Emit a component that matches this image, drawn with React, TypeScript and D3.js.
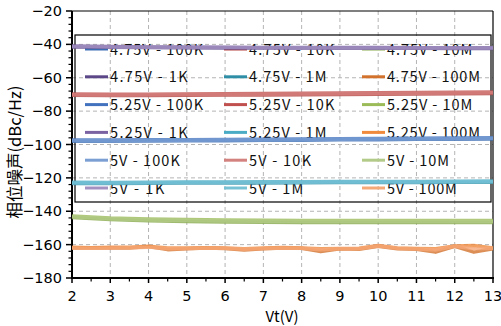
import React from "react";
import * as d3 from "d3";

const VT = [2, 3, 4, 5, 6, 7, 8, 9, 10, 11, 12, 13];
const VT_FINE = [2, 2.5, 3, 3.5, 4, 4.5, 5, 5.5, 6, 6.5, 7, 7.5, 8, 8.5, 9, 9.5, 10, 10.5, 11, 11.5, 12, 12.5, 13];

const X_TICKS = [2, 3, 4, 5, 6, 7, 8, 9, 10, 11, 12, 13];
const Y_TICKS = [-20, -40, -60, -80, -100, -120, -140, -160, -180];

const V475_100K = [-98.0, -98.0, -97.9, -97.8, -97.7, -97.5, -97.4, -97.2, -97.1, -96.9, -96.8, -96.7];
const V475_10K = [-70.5, -70.6, -70.6, -70.5, -70.4, -70.3, -70.2, -70.0, -69.9, -69.8, -69.6, -69.5];
const V475_10M = [-143.8, -145.0, -145.7, -146.1, -146.4, -146.6, -146.7, -146.8, -146.8, -146.8, -146.8, -146.8];
const V475_1K = [-41.5, -41.7, -41.9, -42.0, -42.1, -42.2, -42.2, -42.3, -42.3, -42.3, -42.4, -42.4];
const V475_1M = [-123.3, -123.3, -123.2, -123.1, -123.0, -123.0, -122.9, -122.8, -122.8, -122.7, -122.6, -122.6];
const V475_100M = [-162, -162, -161.8, -162, -161.2, -163, -162.5, -162, -162.3, -163.2, -162.5, -162, -162.2, -164.2, -162.5, -162.8, -161, -162.5, -162.8, -164.5, -161, -164.5, -162.5];

const V525_100K = [-97.3, -97.3, -97.2, -97.1, -97.0, -96.8, -96.7, -96.5, -96.4, -96.2, -96.1, -96.0];
const V525_10K = [-69.8, -69.9, -69.9, -69.8, -69.6, -69.5, -69.3, -69.2, -69.0, -68.9, -68.7, -68.6];
const V525_10M = [-142.8, -144.0, -144.6, -145.0, -145.2, -145.4, -145.5, -145.5, -145.5, -145.5, -145.5, -145.5];
const V525_1K = [-41.0, -41.3, -41.5, -41.6, -41.7, -41.8, -41.8, -41.9, -41.9, -42.0, -42.0, -42.0];
const V525_1M = [-122.6, -122.7, -122.6, -122.5, -122.4, -122.3, -122.3, -122.2, -122.1, -122.1, -122.0, -121.9];
const V525_100M = [-161.5, -161.8, -161.5, -161.6, -161, -162, -162, -161.8, -162, -162.5, -162, -161.7, -162, -162.5, -162.3, -162.2, -160.5, -162, -162.3, -162.5, -160.8, -160.5, -162];

const V5_100K = [-97.6, -97.7, -97.6, -97.5, -97.3, -97.2, -97.0, -96.9, -96.7, -96.6, -96.4, -96.3];
const V5_10K = [-70.2, -70.3, -70.2, -70.1, -70.0, -69.9, -69.7, -69.6, -69.4, -69.3, -69.2, -69.0];
const V5_10M = [-143.3, -144.5, -145.2, -145.6, -145.8, -146.0, -146.1, -146.1, -146.1, -146.1, -146.1, -146.1];
const V5_1K = [-41.3, -41.5, -41.7, -41.8, -41.9, -42.0, -42.0, -42.1, -42.1, -42.1, -42.2, -42.2];
const V5_1M = [-123.0, -123.0, -122.9, -122.8, -122.7, -122.6, -122.6, -122.5, -122.4, -122.4, -122.3, -122.3];
const V5_100M = [-162, -162.2, -162, -161.8, -161.5, -162.5, -162.3, -162, -162.2, -162.8, -162.3, -162, -162.2, -163, -162.5, -162.5, -160.8, -162.2, -162.6, -163.2, -161, -162.5, -162.2];

const SERIES = [
  { name: "4.75V - 100K", x: VT, y: V475_100K, color: "#3b6db3" },
  { name: "4.75V - 10K", x: VT, y: V475_10K, color: "#b2403c" },
  { name: "4.75V - 10M", x: VT, y: V475_10M, color: "#86a94a" },
  { name: "4.75V - 1K", x: VT, y: V475_1K, color: "#5c4888" },
  { name: "4.75V - 1M", x: VT, y: V475_1M, color: "#2e8ea6" },
  { name: "4.75V - 100M", x: VT_FINE, y: V475_100M, color: "#d2722c" },
  { name: "5.25V - 100K", x: VT, y: V525_100K, color: "#4272bd" },
  { name: "5.25V - 10K", x: VT, y: V525_10K, color: "#c0504d" },
  { name: "5.25V - 10M", x: VT, y: V525_10M, color: "#9bbb59" },
  { name: "5.25V - 1K", x: VT, y: V525_1K, color: "#7b62a3" },
  { name: "5.25V - 1M", x: VT, y: V525_1M, color: "#4bacc6" },
  { name: "5.25V - 100M", x: VT_FINE, y: V525_100M, color: "#f08a3c" },
  { name: "5V - 100K", x: VT, y: V5_100K, color: "#7b9fd3" },
  { name: "5V - 10K", x: VT, y: V5_10K, color: "#d4827f" },
  { name: "5V - 10M", x: VT, y: V5_10M, color: "#b3cb88" },
  { name: "5V - 1K", x: VT, y: V5_1K, color: "#a391c2" },
  { name: "5V - 1M", x: VT, y: V5_1M, color: "#78c2d6" },
  { name: "5V - 100M", x: VT_FINE, y: V5_100M, color: "#f5a878" },
];

const W = 501;
const H = 326;
const L = 72, R = 493, T = 11, B = 278;

export default function App() {
  const x = d3.scaleLinear().domain([2, 13]).range([L, R]);
  const y = d3.scaleLinear().domain([-180, -20]).range([B, T]);
  const line = d3.line<[number, number]>().x((d) => x(d[0])).y((d) => y(d[1]));

  const minorY: number[] = [];
  for (let v = -180; v <= -20; v += 4) if (v % 20 !== 0) minorY.push(v);
  const minorX: number[] = [];
  for (let v = 2.5; v < 13; v += 1) minorX.push(v);

  const tickFont = "'DejaVu Sans', sans-serif";
  const cjkFont = "'Noto Sans CJK SC', sans-serif";

  const legX = [85, 224, 362];
  const legY0 = 49;
  const legDy = 27.8;

  return (
    <svg width={W} height={H} style={{ position: "absolute", left: 0, top: 0, background: "#fff" }}>
      <rect x={0} y={0} width={W} height={H} fill="#fff" />
      {X_TICKS.filter((v) => v !== 2 && v !== 13).map((v) => (
        <line key={"gx" + v} x1={x(v)} x2={x(v)} y1={T} y2={B} stroke="#b4b4b4" strokeWidth={1} strokeDasharray="4,3" />
      ))}
      {Y_TICKS.filter((v) => v !== -20 && v !== -180).map((v) => (
        <line key={"gy" + v} x1={L} x2={R} y1={y(v)} y2={y(v)} stroke="#b4b4b4" strokeWidth={1} strokeDasharray="4,3" />
      ))}
      <line x1={L} x2={R} y1={T} y2={T} stroke="#000" strokeWidth={1.2} />
      <line x1={R} x2={R} y1={T} y2={B} stroke="#000" strokeWidth={1.2} />
      <rect x={75} y={35} width={416} height={167} fill="none" stroke="#000" strokeWidth={1.2} />
      {SERIES.map((s, i) => {
        const col = i % 3;
        const row = Math.floor(i / 3);
        const lx = legX[col];
        const ly = legY0 + row * legDy;
        return (
          <g key={"leg" + i}>
            <line x1={lx} x2={lx + 23} y1={ly} y2={ly} stroke={s.color} strokeWidth={3} />
            <text
              x={lx + 25}
              y={ly + 5.5}
              fontFamily={cjkFont}
              fontSize={14.5}
              fill="#111"
              textLength={s.name.length * 7.75}
              lengthAdjust="spacing"
            >
              {s.name}
            </text>
          </g>
        );
      })}
      <line x1={L} x2={L} y1={T} y2={B + 1} stroke="#000" strokeWidth={2} />
      <line x1={L - 1} x2={R + 1} y1={B} y2={B} stroke="#000" strokeWidth={2.2} />
      {Y_TICKS.map((v) => (
        <g key={"yt" + v}>
          <line x1={L - 6} x2={L} y1={y(v)} y2={y(v)} stroke="#000" strokeWidth={1.5} />
          <text x={L - 10} y={y(v) + 5} textAnchor="end" fontFamily={tickFont} fontSize={14.5} fill="#000">
            {v < 0 ? "\u2212" + Math.abs(v) : String(v)}
          </text>
        </g>
      ))}
      {minorY.map((v) => (
        <line key={"my" + v} x1={L - 3.5} x2={L} y1={y(v)} y2={y(v)} stroke="#000" strokeWidth={1.2} />
      ))}
      {X_TICKS.map((v) => (
        <g key={"xt" + v}>
          <line x1={x(v)} x2={x(v)} y1={B} y2={B + 5} stroke="#000" strokeWidth={1.5} />
          <text x={x(v)} y={B + 23} textAnchor="middle" fontFamily={tickFont} fontSize={14.5} fill="#000">
            {String(v)}
          </text>
        </g>
      ))}
      {minorX.map((v) => (
        <line key={"mx" + v} x1={x(v)} x2={x(v)} y1={B} y2={B + 3.5} stroke="#000" strokeWidth={1.2} />
      ))}
      {SERIES.map((s, i) => (
        <path
          key={"s" + i}
          d={line(s.x.map((xv, j) => [xv, s.y[j]] as [number, number])) || ""}
          fill="none"
          stroke={s.color}
          strokeWidth={3.5}
          strokeOpacity={0.8}
          strokeLinejoin="round"
        />
      ))}
      <text x={282} y={322} textAnchor="middle" fontFamily={cjkFont} fontSize={15} fill="#000">
        Vt(V)
      </text>
      <text
        transform="translate(21,152) rotate(-90)"
        textAnchor="middle"
        fontFamily={cjkFont}
        fontSize={16.5}
        fill="#000"
      >
        相位噪声(dBc/Hz)
      </text>
    </svg>
  );
}
